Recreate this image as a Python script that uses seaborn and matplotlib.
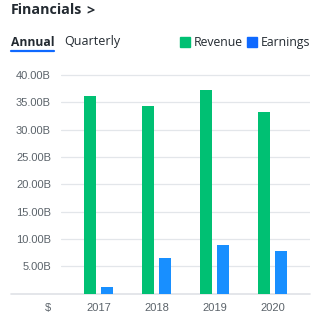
import matplotlib
matplotlib.use("Agg")
import matplotlib.pyplot as plt
import seaborn as sns
import pandas as pd
from matplotlib.patches import Rectangle
from matplotlib.lines import Line2D

# Annual figures, in billions
years = ["2017", "2018", "2019", "2020"]
revenue = [36.21, 34.27, 37.20, 33.17]
earnings = [1.23, 6.48, 8.97, 7.82]
series_names = ["Revenue", "Earnings"]
y_ticks = [5, 10, 15, 20, 25, 30, 35, 40]

bar_colors = {"Revenue": "#00c073", "Earnings": "#188fff"}
legend_colors = {"Revenue": "#00c073", "Earnings": "#0f69ff"}

df = pd.DataFrame({
    "Year": years * 2,
    "Value": revenue + earnings,
    "Metric": [series_names[0]] * len(years) + [series_names[1]] * len(years),
})

sns.set_theme(style="white")
plt.rcParams["font.family"] = ["Liberation Sans", "DejaVu Sans"]

W, H = 327, 326
fig = plt.figure(figsize=(W / 100, H / 100), dpi=100)
ax_left, ax_right = 61, 310
zero_y, top_y = 293.7, 72.27
ax = fig.add_axes([ax_left / W, (H - zero_y) / H,
                   (ax_right - ax_left) / W, (zero_y - top_y) / H])

sns.barplot(data=df, x="Year", y="Value", hue="Metric", order=years,
            hue_order=series_names, palette=bar_colors, width=0.586,
            gap=0.29, linewidth=0, saturation=1, legend=False, ax=ax)

ax.set_xlim(-0.647, 3.647)
ax.set_ylim(0, 40.5)
ax.set_yticks(y_ticks)
ax.set_yticklabels([f"{v:.2f}B" for v in y_ticks])
ax.set_xlabel("")
ax.set_ylabel("")
for s in ax.spines.values():
    s.set_visible(False)
ax.grid(axis="y", color="#e3e6ea", linewidth=0.9)
ax.set_axisbelow(True)
ax.tick_params(axis="y", length=0, pad=7.2, labelsize=8, labelcolor="#5b636a")
ax.tick_params(axis="x", length=0, pad=6.5, labelsize=8, labelcolor="#5b636a")

# baseline running under the currency label
ax.axhline(0, xmin=(11 - ax_left) / (ax_right - ax_left), xmax=1,
           color="#dfe2e6", linewidth=1.2, clip_on=False, zorder=0)

fig.text(48 / W, 1 - 308 / H, "$", ha="center", va="center",
         fontsize=8, color="#5b636a")

# header
hdr = ["Open Sans", "DejaVu Sans"]
fig.text(11 / W, 1 - 10 / H, "Financials", ha="left", va="center",
         fontsize=10.3, fontweight="bold", color="#232a31", family=hdr)
fig.text(86 / W, 1 - 10 / H, ">", ha="left", va="center",
         fontsize=10.3, fontweight="bold", color="#232a31", family=hdr)
fig.text(11 / W, 1 - 42 / H, "Annual", ha="left", va="center",
         fontsize=8.7, fontweight="bold", color="#232a31", family=hdr)
fig.text(64 / W, 1 - 42 / H, "Quarterly", ha="left", va="center",
         fontsize=9.0, color="#232a31", family=hdr)
fig.add_artist(Line2D([11 / W, 54 / W], [1 - 51 / H, 1 - 51 / H],
                      color="#0f69ff", linewidth=1.6,
                      transform=fig.transFigure))

# legend
for x0, name in [(180, "Revenue"), (247, "Earnings")]:
    fig.add_artist(Rectangle((x0 / W, 1 - 47 / H), 10 / W, 10 / H,
                             color=legend_colors[name],
                             transform=fig.transFigure))
    fig.text((x0 + 14) / W, 1 - 42.5 / H, name, ha="left", va="center",
             fontsize=8.8, color="#232a31", family=hdr)

fig.savefig("out.png", dpi=100)
